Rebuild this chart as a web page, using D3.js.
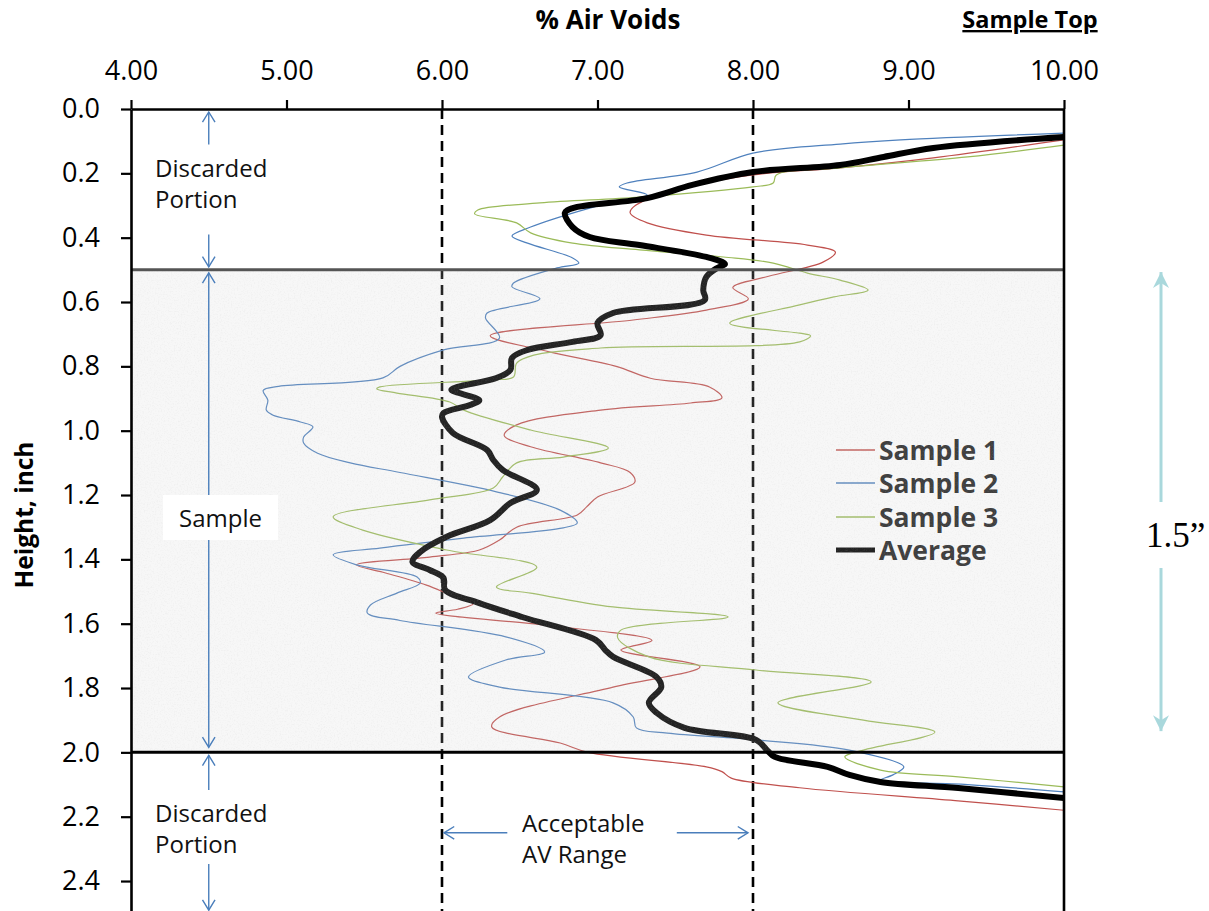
<!DOCTYPE html>
<html><head><meta charset="utf-8">
<script src="https://cdn.jsdelivr.net/npm/d3@7"></script>
<style>
body{margin:0;background:#fff;}
svg{display:block;font-family:"Open Sans",sans-serif;}
</style>
</head><body>
<svg id="chart" width="1209" height="911"></svg>
<script>
// ---------- data ----------
const xTicks = [4, 5, 6, 7, 8, 9, 10];
const yTicks = [0, 0.2, 0.4, 0.6, 0.8, 1.0, 1.2, 1.4, 1.6, 1.8, 2.0, 2.2, 2.4];
const seriesNames = ["Sample 1", "Sample 2", "Sample 3", "Average"];
const acceptableRange = [6, 8];
const sampleZone = [0.5, 2.0];

const s1Height = [0.096,0.152,0.183,0.205,0.252,0.305,0.323,0.354,0.392,0.423,0.445,0.476,0.52,0.555,0.59,0.625,0.656,0.705,0.755,0.80,0.837,0.864,0.898,0.914,0.936,0.982,1.015,1.05,1.10,1.13,1.16,1.206,1.237,1.262,1.30,1.34,1.371,1.393,1.417,1.44,1.48,1.51,1.538,1.555,1.567,1.604,1.652,1.682,1.734,1.797,1.89,1.921,1.971,2.0,2.045,2.06,2.08,2.11,2.15,2.18];
const s1Voids  = [10.0,9.16,8.56,8.0,7.49,7.23,7.21,7.32,7.70,8.35,8.53,8.45,8.10,7.87,7.97,7.70,7.23,6.31,6.69,7.12,7.34,7.72,7.80,7.60,7.02,6.48,6.40,6.57,7.02,7.21,7.24,7.0,6.93,6.87,6.48,6.37,6.24,5.92,5.45,5.62,5.90,6.05,6.20,6.10,5.96,6.65,7.35,7.15,7.66,7.10,6.37,6.32,6.76,6.94,7.70,7.80,7.86,8.30,9.30,10.0];

const s2Height = [0.075,0.096,0.109,0.137,0.196,0.230,0.242,0.267,0.29,0.308,0.367,0.395,0.417,0.463,0.479,0.494,0.541,0.553,0.59,0.634,0.65,0.712,0.749,0.80,0.836,0.862,0.875,0.905,0.936,0.951,0.973,0.988,1.02,1.038,1.07,1.10,1.13,1.19,1.247,1.287,1.302,1.334,1.365,1.386,1.417,1.455,1.473,1.505,1.542,1.567,1.59,1.641,1.688,1.713,1.766,1.797,1.846,1.89,1.924,1.94,1.961,1.993,2.045,2.07,2.086,2.10,2.123];
const s2Voids  = [10.0,8.95,8.56,8.00,7.64,7.19,7.14,7.32,7.10,6.95,6.57,6.45,6.55,6.84,6.88,6.74,6.46,6.45,6.63,6.29,6.28,6.37,6.01,5.73,5.62,4.95,4.85,4.88,4.87,4.91,5.09,5.17,5.11,5.11,5.20,5.41,5.73,6.35,6.76,6.87,6.78,6.14,5.60,5.30,5.45,5.84,5.86,5.71,5.54,5.52,5.73,6.41,6.66,6.41,6.17,6.37,7.10,7.23,7.25,7.45,8.02,8.62,8.97,8.90,8.82,9.38,10.0];

const s3Height = [0.112,0.149,0.183,0.205,0.230,0.242,0.274,0.292,0.314,0.326,0.354,0.385,0.417,0.438,0.46,0.479,0.51,0.532,0.563,0.584,0.609,0.666,0.697,0.705,0.724,0.743,0.765,0.79,0.833,0.842,0.864,0.87,0.883,0.911,0.936,0.998,1.054,1.082,1.10,1.144,1.178,1.215,1.268,1.309,1.371,1.424,1.486,1.505,1.548,1.579,1.62,1.644,1.703,1.744,1.781,1.846,1.90,1.937,1.993,2.014,2.055,2.076,2.107];
const s3Voids  = [10.0,9.38,8.56,8.15,8.13,8.00,7.27,6.63,6.23,6.21,6.48,6.57,6.84,7.27,7.81,8.13,8.35,8.56,8.74,8.52,8.30,7.85,8.30,8.37,8.30,7.02,6.59,6.48,6.46,6.31,5.60,5.58,5.71,6.05,6.14,6.57,7.07,6.78,6.48,6.39,6.33,5.92,5.30,5.49,6.03,6.61,6.35,6.57,7.10,7.84,7.15,7.13,7.33,8.02,8.76,8.16,8.71,9.17,8.71,8.59,8.82,9.32,10.0];

const avgHeight = [0.087,0.121,0.149,0.174,0.196,0.236,0.277,0.308,0.323,0.367,0.398,0.423,0.46,0.482,0.494,0.522,0.563,0.594,0.634,0.665,0.703,0.724,0.749,0.774,0.811,0.836,0.864,0.873,0.905,0.92,0.945,0.957,1.007,1.06,1.091,1.122,1.184,1.225,1.278,1.33,1.377,1.408,1.433,1.458,1.495,1.536,1.58,1.651,1.682,1.703,1.766,1.797,1.846,1.877,1.924,1.961,1.993,2.014,2.045,2.07,2.092,2.111,2.142];
const avgVoids  = [10.0,9.16,8.84,8.56,8.00,7.61,7.32,6.84,6.79,6.84,6.95,7.27,7.70,7.82,7.77,7.70,7.68,7.69,7.10,7.00,7.02,6.84,6.55,6.45,6.44,6.35,6.10,6.06,6.24,6.18,6.01,6.00,6.07,6.29,6.33,6.39,6.61,6.44,6.31,6.03,5.86,5.81,5.92,6.01,6.02,6.24,6.52,6.99,7.05,7.10,7.38,7.41,7.33,7.38,7.56,8.02,8.09,8.14,8.48,8.62,8.82,9.32,10.0];

// ---------- setup ----------
const svg = d3.select("#chart");
const x = d3.scaleLinear().domain([4, 10]).range([131, 1064]);
const y = d3.scaleLinear().domain([0, 2.5]).range([109, 913.2]);

const seriesData = [
  {name: seriesNames[0], h: s1Height, v: s1Voids, color: "#c0504d", width: 1.2},
  {name: seriesNames[1], h: s2Height, v: s2Voids, color: "#4f81bd", width: 1.2},
  {name: seriesNames[2], h: s3Height, v: s3Voids, color: "#9bbb59", width: 1.2},
  {name: seriesNames[3], h: avgHeight, v: avgVoids, color: "#000000", width: 6}
];

const defs = svg.append("defs");
defs.append("clipPath").attr("id", "plotclip")
  .append("rect").attr("x", x(4)).attr("y", y(0)).attr("width", x(10) - x(4)).attr("height", y(2.5) - y(0));
const noise = defs.append("filter").attr("id", "noise").attr("x", 0).attr("y", 0).attr("width", "100%").attr("height", "100%");
noise.append("feTurbulence").attr("type", "fractalNoise").attr("baseFrequency", 0.7).attr("numOctaves", 3).attr("seed", 4);
noise.append("feColorMatrix").attr("type", "matrix")
  .attr("values", "0 0 0 0 0.5  0 0 0 0 0.5  0 0 0 0 0.5  0 0 0 1.6 -0.74");

// dashed acceptable lines
svg.append("g").selectAll("line").data(acceptableRange).join("line")
  .attr("x1", d => x(d)).attr("x2", d => x(d))
  .attr("y1", y(0)).attr("y2", y(2.5))
  .attr("stroke", "#000").attr("stroke-width", 2.6).attr("stroke-dasharray", "10,6");

// series lines
const line = d3.line().curve(d3.curveCatmullRom.alpha(0.5));
const lineG = svg.append("g").attr("clip-path", "url(#plotclip)");
lineG.selectAll("path").data(seriesData).join("path")
  .attr("d", s => line(s.h.map((h, i) => [x(s.v[i]), y(h)])))
  .attr("fill", "none").attr("stroke", d => d.color).attr("stroke-width", d => d.width)
  .attr("stroke-linejoin", "round").attr("stroke-linecap", "round");

// legend (under the translucent sample panel)
const lg = svg.append("g");
const legY = [450, 483, 517, 550];
seriesData.forEach((s, i) => {
  lg.append("line").attr("x1", 836).attr("x2", 875).attr("y1", legY[i]).attr("y2", legY[i])
    .attr("stroke", s.color).attr("stroke-width", i === 3 ? 5 : 1.5);
  lg.append("text").attr("x", 879).attr("y", legY[i]).attr("dy", "0.36em")
    .attr("font-size", 26.5).attr("font-weight", 700).attr("fill", "#222").text(s.name);
});

// sample zone overlay
svg.append("rect").attr("x", x(4)).attr("y", y(sampleZone[0]))
  .attr("width", x(10) - x(4)).attr("height", y(sampleZone[1]) - y(sampleZone[0]))
  .attr("fill", "#cfcfcf").attr("opacity", 0.17);
svg.append("rect").attr("x", x(4)).attr("y", y(sampleZone[0]))
  .attr("width", x(10) - x(4)).attr("height", y(sampleZone[1]) - y(sampleZone[0]))
  .attr("filter", "url(#noise)").attr("opacity", 0.2);

// zone boundaries
svg.append("line").attr("x1", x(4)).attr("x2", x(10)).attr("y1", y(sampleZone[0])).attr("y2", y(sampleZone[0]))
  .attr("stroke", "#555").attr("stroke-width", 3);
svg.append("line").attr("x1", x(4)).attr("x2", x(10)).attr("y1", y(sampleZone[1])).attr("y2", y(sampleZone[1]))
  .attr("stroke", "#000").attr("stroke-width", 3);

// axes
const xAxis = d3.axisTop(x).tickValues(xTicks).tickFormat(d3.format(".2f")).tickSize(9).tickSizeOuter(0).tickPadding(20);
const gx = svg.append("g").attr("transform", `translate(0,${y(0)})`).call(xAxis);
const yAxis = d3.axisLeft(y).tickValues(yTicks).tickFormat(d3.format(".1f")).tickSize(10).tickSizeOuter(0).tickPadding(21);
const gy = svg.append("g").attr("transform", `translate(${x(4)},0)`).call(yAxis);
[gx, gy].forEach(g => {
  g.select(".domain").attr("stroke", "#000").attr("stroke-width", 2.6);
  g.selectAll(".tick line").attr("stroke", "#000").attr("stroke-width", 2.2);
  g.selectAll(".tick text").attr("font-size", 27).attr("fill", "#000").attr("font-family", "'Open Sans',sans-serif");
});
// right border
svg.append("line").attr("x1", x(10)).attr("x2", x(10)).attr("y1", y(0)).attr("y2", y(2.5))
  .attr("stroke", "#000").attr("stroke-width", 2.6);

// titles
svg.append("text").attr("x", 608).attr("y", 29).attr("text-anchor", "middle")
  .attr("font-size", 26).attr("font-weight", 700).attr("fill", "#000").text("% Air Voids");
svg.append("text").attr("x", 1030).attr("y", 28).attr("text-anchor", "middle")
  .attr("font-size", 23.5).attr("font-weight", 700).attr("fill", "#000")
  .style("text-decoration", "underline").text("Sample Top");
svg.append("text").attr("transform", "translate(33,515) rotate(-90)").attr("text-anchor", "middle")
  .attr("font-size", 24.5).attr("font-weight", 700).attr("fill", "#000").text("Height, inch");

// annotation helpers
const annBlue = "#4a7ebb";
function arrow(g, x1, y1, x2, y2, color, w) {
  g.append("line").attr("x1", x1).attr("y1", y1).attr("x2", x2).attr("y2", y2)
    .attr("stroke", color).attr("stroke-width", w);
  const ang = Math.atan2(y2 - y1, x2 - x1);
  const L = 12, spread = 0.55;
  const p1 = [x2 - L * Math.cos(ang - spread), y2 - L * Math.sin(ang - spread)];
  const p2 = [x2 - L * Math.cos(ang + spread), y2 - L * Math.sin(ang + spread)];
  g.append("path").attr("d", `M${p1}L${x2},${y2}L${p2}`).attr("fill", "none")
    .attr("stroke", color).attr("stroke-width", w);
}
function label(g, lines, x0, y0, lh, anchor) {
  lines.forEach((t, i) => g.append("text").attr("x", x0).attr("y", y0 + i * lh)
    .attr("font-size", 24).attr("fill", "#111").attr("text-anchor", anchor || "start").text(t));
}
const ann = svg.append("g");
const ax = x(4.5);
// top discarded
arrow(ann, ax, y(0.11), ax, y(0) + 3, annBlue, 1.4);
arrow(ann, ax, y(0.39), ax, y(0.5) - 3, annBlue, 1.4);
label(ann, ["Discarded", "Portion"], 155, 177, 31);
// sample
arrow(ann, ax, y(1.2), ax, y(0.5) + 3, annBlue, 1.4);
arrow(ann, ax, y(1.34), ax, y(2.0) - 5, annBlue, 1.4);
ann.append("rect").attr("x", 163).attr("y", 495).attr("width", 115).attr("height", 45).attr("fill", "#fff");
label(ann, ["Sample"], 179, 527, 0);
// bottom discarded
arrow(ann, ax, y(2.117), ax, y(2.0) + 3, annBlue, 1.4);
arrow(ann, ax, y(2.347), ax, y(2.5) - 3, annBlue, 1.4);
label(ann, ["Discarded", "Portion"], 155, 822, 31);
// acceptable range
const ay = y(2.25);
arrow(ann, x(6.42), ay, x(6) + 2, ay, annBlue, 1.4);
arrow(ann, x(7.51), ay, x(8) - 5, ay, annBlue, 1.4);
label(ann, ["Acceptable", "AV Range"], 522, 832, 31);

// 1.5" sample height marker
const cyan = "#a9d8dc";
const cx = 1161;
function fatArrow(g, xc, yStart, yTip) {
  g.append("line").attr("x1", xc).attr("x2", xc).attr("y1", yStart).attr("y2", yTip)
    .attr("stroke", cyan).attr("stroke-width", 3);
  const s = Math.sign(yTip - yStart);
  g.append("path").attr("d", `M${xc},${yTip}L${xc - 8},${yTip - s * 16}L${xc},${yTip - s * 11}L${xc + 8},${yTip - s * 16}Z`)
    .attr("fill", cyan);
}
fatArrow(ann, cx, 502, y(0.507));
fatArrow(ann, cx, 568, y(1.934));
ann.append("text").attr("x", 1146).attr("y", 547).attr("font-family", "'Liberation Serif','Times New Roman',serif")
  .attr("font-size", 35).attr("fill", "#000").text("1.5\u201D");
</script>
</body></html>
